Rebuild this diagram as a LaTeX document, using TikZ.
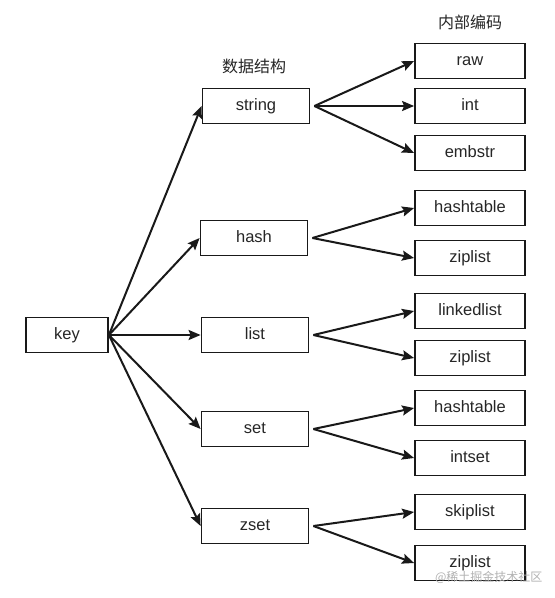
\documentclass[tikz,border=0pt]{standalone}
\usepackage{fontspec}
\setmainfont{Liberation Sans}
\newfontfamily\cjk{Noto Sans CJK SC}
\usetikzlibrary{arrows.meta}
\begin{document}
\begin{tikzpicture}[x=1pt,y=-1pt,
  box/.style={draw=black!90,line width=1.8pt,minimum height=35pt,inner sep=0pt,text height=12pt,text depth=3.5pt,font=\fontsize{16.5}{18}\selectfont,text=black!85},
  midbox/.style={box,minimum width=107pt},
  leafbox/.style={box,minimum width=110pt},
  arr/.style={-{Stealth[length=12pt,width=10pt,inset=2pt]},line width=2pt,black!90},
  head/.style={font=\cjk\fontsize{16}{18}\selectfont,text=black!85}]
\useasboundingbox (0,0) rectangle (555,598);
\fill[white] (0,0) rectangle (555,598);
\node[box,minimum width=82pt] (key) at (67,335) {key};
\node[midbox] (string) at (256,106) {string};
\node[midbox] (hash) at (254,238) {hash};
\node[midbox] (list) at (255,335) {list};
\node[midbox] (set) at (255,429) {set};
\node[midbox] (zset) at (255,526) {zset};
\node[head] (h1) at (254,66) {数据结构};
\node[head] (h2) at (470,22) {内部编码};
\node[leafbox] (raw) at (470,61) {raw};
\node[leafbox] (int) at (470,106) {int};
\node[leafbox] (embstr) at (470,153) {embstr};
\node[leafbox] (ht1) at (470,208) {hashtable};
\node[leafbox] (zl1) at (470,258) {ziplist};
\node[leafbox] (ll) at (470,311) {linkedlist};
\node[leafbox] (zl2) at (470,358) {ziplist};
\node[leafbox] (ht2) at (470,408) {hashtable};
\node[leafbox] (is) at (470,458) {intset};
\node[leafbox] (sl) at (470,512) {skiplist};
\node[leafbox] (zl3) at (470,563) {ziplist};
\coordinate (k) at (key.east);
\foreach \t in {string,hash,list,set,zset} \draw[arr] (k) -- (\t.west);
\foreach \s/\t in {string/raw,string/int,string/embstr,hash/ht1,hash/zl1,list/ll,list/zl2,set/ht2,set/is,zset/sl,zset/zl3}
  \draw[arr] ([xshift=4pt]\s.east) -- (\t.west);
\node[font=\cjk\fontsize{12}{14}\selectfont,text=black!30,anchor=east] (wm) at (546,577) {@稀土掘金技术社区};
\end{tikzpicture}
\end{document}
